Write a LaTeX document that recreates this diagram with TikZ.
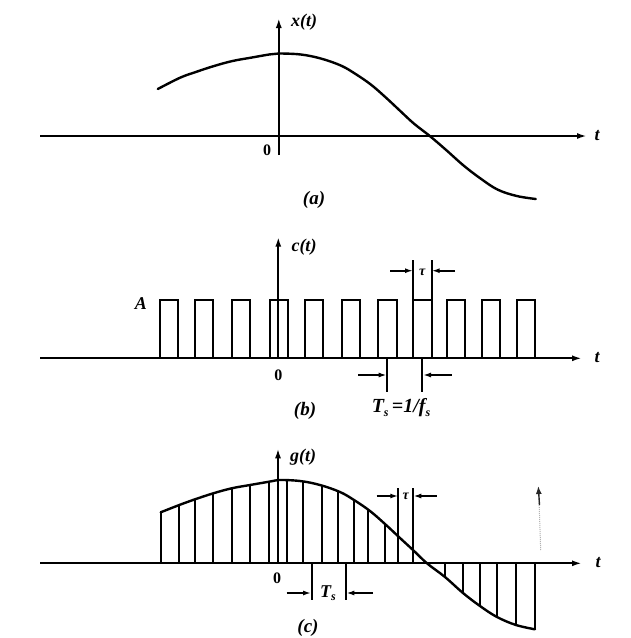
\documentclass[tikz,border=0pt]{standalone}
\usepackage{fontspec}
\setmainfont{Liberation Serif}
\usetikzlibrary{arrows.meta}
\newcommand\mysub[1]{\raisebox{-0.35ex}{\fontsize{12}{13}\selectfont #1}}
\tikzset{
  ax/.style={line width=2pt,-{Latex[length=10pt,width=6pt]}},
  wave/.style={line width=2.4pt,line join=round,line cap=round},
  pulse/.style={line width=2pt},
  dimarrow/.style={line width=1.8pt,-{Latex[length=8pt,width=5pt]}},
  dimline/.style={line width=2pt},
  lbl/.style={font=\fontsize{18}{20}\selectfont\bfseries\itshape,inner sep=0pt},
  numlbl/.style={font=\fontsize{16}{18}\selectfont\bfseries,inner sep=0pt},
  caplbl/.style={font=\fontsize{19}{21}\selectfont\bfseries\itshape,inner sep=0pt},
  smalllbl/.style={font=\fontsize{14}{15}\selectfont\bfseries\itshape,inner sep=0pt}
}
\begin{document}
\begin{tikzpicture}[x=1pt,y=-1pt]
\useasboundingbox (0,0) rectangle (631,638);
\fill[white] (0,0) rectangle (631,638);

% ---------------- (a) ----------------
\coordinate (aL) at (40,136);
\coordinate (aR) at (587,136);
\coordinate (aB) at (278.8,155);
\coordinate (aT) at (278.8,18);
\draw[ax] (aL) -- (aR);
\draw[ax] (aB) -- (aT);
\node[lbl] (axl) at (304,22) {x(t)};
\node[lbl] (at) at (597,136) {t};
\node[numlbl] (a0) at (267,150) {0};
\node[caplbl] (acap) at (314,200) {(a)};
\begin{scope}[shift={(278.8,136)}]
\draw[wave] plot[smooth,tension=0.6] coordinates {
 (-121,-47) (-98.7,-58.3) (-83,-64) (-64.7,-70) (-46.3,-75) (-28,-78.3) (-9,-81.6) (0,-82.5)
 (22,-81.5) (42,-77.5) (62,-70.5) (76,-62.5) (92,-51.5) (107,-38.5) (122,-24.5) (135,-12.5)
 (151,0) (167,13.7) (185,29.7) (202,42.7) (219,53.7) (238,60) (257,63)};
\end{scope}

% ---------------- (b) ----------------
\coordinate (bL) at (40,358.3);
\coordinate (bR) at (582,358.3);
\coordinate (bB) at (278.3,358.3);
\coordinate (bT) at (278.3,236.7);
\draw[ax] (bL) -- (bR);
\draw[ax] (bB) -- (bT);
\foreach \a/\b in {160/178.3, 195/213, 231.7/250, 270/288.3, 305/323, 341.7/360,
                   378/396.7, 413/431.7, 446.7/465, 481.7/500, 516.7/535}
  \draw[pulse] (\a,358.3) |- (\b,300) -- (\b,358.3);
% tau marker
\draw[dimline] (413,300) -- (413,260);
\draw[dimline] (431.7,300) -- (431.7,260);
\coordinate (btl) at (390,270.7);
\coordinate (btr) at (455,270.7);
\draw[dimarrow] (btl) -- (413,270.7);
\draw[dimarrow] (btr) -- (431.7,270.7);
\node[smalllbl] (btau) at (422.3,272) {τ};
% Ts marker
\draw[dimline] (387.3,358.3) -- (387.3,391.7);
\draw[dimline] (422.3,358.3) -- (422.3,391.7);
\coordinate (bsl) at (358.3,375);
\coordinate (bsr) at (451.7,375);
\draw[dimarrow] (bsl) -- (386.7,375);
\draw[dimarrow] (bsr) -- (423,375);
\node[lbl,font=\fontsize{20}{22}\selectfont\bfseries\itshape] (bTs) at (401,408) {T\mysub{s}\,=1/f\mysub{s}};
\node[lbl] (bA) at (141,304) {A};
\node[lbl] (bct) at (304,247) {c(t)};
\node[lbl] (bt) at (597,358) {t};
\node[numlbl] (b0) at (278.3,375) {0};
\node[caplbl] (bcap) at (305,411) {(b)};

% ---------------- (c) ----------------
\begin{scope}[shift={(278,563.3)}]
\coordinate (cL) at (-238,0);
\coordinate (cR) at (304,0);
\coordinate (cB) at (0,0);
\coordinate (cT) at (0,-115);
\begin{scope}
\clip plot[smooth,tension=0.6] coordinates {
 (-117.3,-51) (-98.7,-58.3) (-83,-64) (-64.7,-70) (-46.3,-75) (-28,-78.3) (-9,-81.6) (0,-83.3)
 (22,-82.3) (42,-78.3) (62,-71.3) (76,-63.3) (92,-52.3) (107,-39.3) (122,-25.3) (135,-13.3)
 (149,0) (167,13.7) (185,29.7) (202,42.7) (219,53.7) (238,61.7) (257,66)}
 -- (257,0) -- (-117.3,0) -- cycle;
\foreach \u in {-98.7,-83,-64.7,-46.3,-28,-8.7,9,24.7,43.7,60,76,90,107,167,184.7,202,219.3,237.7}
  \draw[pulse] (\u,-100) -- (\u,100);
\end{scope}
\draw[pulse] (-117.3,0) -- (-117.3,-51);
\draw[pulse] (257,0) -- (257,66);
\draw[wave] plot[smooth,tension=0.6] coordinates {
 (-117.3,-51) (-98.7,-58.3) (-83,-64) (-64.7,-70) (-46.3,-75) (-28,-78.3) (-9,-81.6) (0,-83.3)
 (22,-82.3) (42,-78.3) (62,-71.3) (76,-63.3) (92,-52.3) (107,-39.3) (122,-25.3) (135,-13.3)
 (149,0) (167,13.7) (185,29.7) (202,42.7) (219,53.7) (238,61.7) (257,66)};
\draw[ax] (cL) -- (cR);
\draw[ax] (cB) -- (cT);
% tau marker
\draw[pulse] (120.3,0) -- (120.3,-75.3);
\draw[pulse] (135.3,0) -- (135.3,-75.3);
\coordinate (ctl) at (98.7,-67.3);
\coordinate (ctr) at (158.7,-67.3);
\draw[dimarrow] (ctl) -- (120.3,-67.3);
\draw[dimarrow] (ctr) -- (135.3,-67.3);
\node[smalllbl] (ctau) at (127.8,-67) {τ};
% Ts marker
\draw[dimline] (33.7,0) -- (33.7,37);
\draw[dimline] (67.7,0) -- (67.7,37);
\coordinate (csl) at (8.7,29.7);
\coordinate (csr) at (95,29.7);
\draw[dimarrow] (csl) -- (33.1,29.7);
\draw[dimarrow] (csr) -- (68.3,29.7);
\node[lbl] (cTs) at (50,30) {T\mysub{s}};
\end{scope}
\node[lbl] (cgt) at (303,457) {g(t)};
\node[lbl] (ct) at (598,563) {t};
\node[numlbl] (c0) at (277,578) {0};
\node[caplbl] (ccap) at (308,628) {(c)};
% stray mark
\coordinate (sB) at (540.7,550);
\coordinate (sT) at (538.3,486);
\draw[gray!60,line width=1pt,densely dotted] (sB) -- (539,500);
\draw[black!85,line width=1.4pt,-{Latex[length=8pt,width=6pt]}] (539.5,505) -- (sT);
\end{tikzpicture}
\end{document}
